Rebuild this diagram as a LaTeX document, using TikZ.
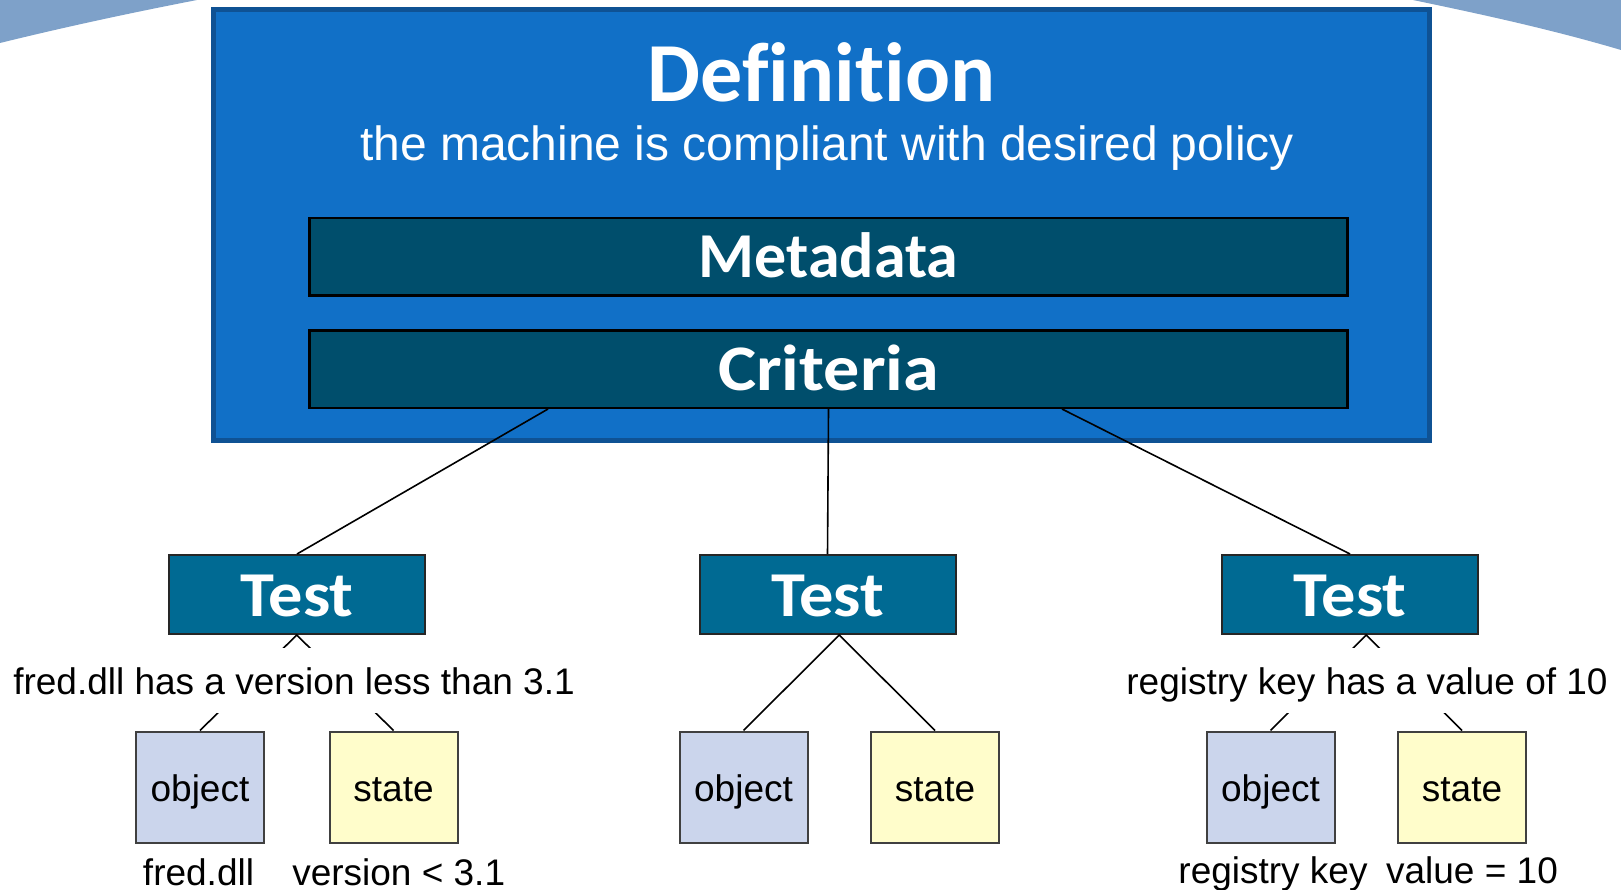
\documentclass[tikz,border=0pt]{standalone}
\usepackage{fontspec}
\setmainfont{Liberation Sans}
\newfontfamily\calfont{Carlito}[Ligatures=NoCommon, BoldFont={Carlito Bold}]
\newfontfamily\calwide{Carlito}[Ligatures=NoCommon, BoldFont={Carlito Bold}, BoldFeatures={FakeStretch=1.11}]
\newfontfamily\caltest{Carlito}[Ligatures=NoCommon, BoldFont={Carlito Bold}, BoldFeatures={FakeStretch=1.07}]
\usetikzlibrary{calc}
\definecolor{archblue}{HTML}{7EA1C9}
\definecolor{deffill}{HTML}{1170C7}
\definecolor{defborder}{HTML}{0F5294}
\definecolor{metafill}{HTML}{004E6C}
\definecolor{testfill}{HTML}{006A93}
\definecolor{objfill}{HTML}{CBD5EC}
\definecolor{statefill}{HTML}{FFFDCB}
\tikzset{
  defbox/.style={draw=defborder, line width=5pt, fill=deffill, minimum width=1216pt, minimum height=431pt, inner sep=0pt},
  metabox/.style={draw=black, line width=2.5pt, fill=metafill, minimum width=1038pt, minimum height=77.5pt, inner sep=0pt, text=white, font=\calfont\bfseries\fontsize{64}{64}\selectfont, text height=41pt, text depth=0pt},
  testbox/.style={draw=black!85, line width=2pt, fill=testfill, minimum width=256pt, minimum height=79pt, inner sep=0pt, text=white, font=\caltest\bfseries\fontsize{64}{64}\selectfont, text height=43pt, text depth=0pt},
  objbox/.style={draw=black!75, line width=2pt, fill=objfill, minimum width=128pt, minimum height=111pt, inner sep=0pt, font=\fontsize{37}{37}\selectfont, text height=36pt, text depth=7pt},
  statebox/.style={objbox, fill=statefill},
  conn/.style={draw=black, line width=1.6pt},
  desc/.style={fill=white, inner xsep=4pt, inner ysep=0pt, text height=46pt, text depth=19pt, anchor=base, font=\fontsize{37}{37}\selectfont},
  sublabel/.style={inner sep=0pt, anchor=base, font=\fontsize{37}{37}\selectfont},
}
\begin{document}
\begin{tikzpicture}[x=1pt, y=-1pt]
\useasboundingbox (0,0) rectangle (1621,890);
\fill[white] (0,0) rectangle (1621,890);
% background arches
\fill[archblue] (0,0) -- (197,0) .. controls (130,13) and (65,27) .. (0,43) -- cycle;
\fill[archblue] (1413,0) .. controls (1480,14) and (1550,29) .. (1621,50) -- (1621,0) -- cycle;

% definition
\node[defbox] (def) at (821.5,225) {};
\node[inner sep=0pt, anchor=base, text=white, font=\calfont\bfseries\fontsize{84}{84}\selectfont] (title) at (821.5,102) {Definition};
\node[inner sep=0pt, anchor=base, text=white, font=\fontsize{48}{48}\selectfont] (subtitle) at (827,161) {the machine is compliant with desired policy};
\node[metabox] (meta) at (828.5,257) {Metadata};
\node[metabox, font=\calwide\bfseries\fontsize{65}{65}\selectfont, text height=42pt] (crit) at (828.5,369) {Criteria};

% tests
\node[testbox] (t1) at (297,594.5) {Test};
\node[testbox] (t2) at (827.5,594.5) {Test};
\node[testbox] (t3) at (1350,594.5) {Test};

\coordinate (c1) at ($(crit.south)+(-280.5,0)$);
\coordinate (c2) at (crit.south);
\coordinate (c3) at ($(crit.south)+(233.5,0)$);
\draw[conn] (c1) -- (t1.north);
\draw[conn] (c2) -- (t2.north);
\draw[conn] (c3) -- (t3.north);

% objects and states
\node[objbox] (o1) at (200,787) {object};
\node[statebox] (s1) at (393.5,787) {state};
\node[objbox] (o2) at (743.5,787) {object};
\node[statebox] (s2) at (935,787) {state};
\node[objbox] (o3) at (1270.5,787) {object};
\node[statebox] (s3) at (1462,787) {state};

\coordinate (m1) at ($(o1.north)!0.5!(s1.north)$);
\coordinate (a1) at (m1 |- t1.south);
\coordinate (m2) at ($(o2.north)!0.5!(s2.north)$);
\coordinate (a2) at (m2 |- t2.south);
\coordinate (m3) at ($(o3.north)!0.5!(s3.north)$);
\coordinate (a3) at (m3 |- t3.south);
\draw[conn] (o1.north) -- (a1) -- (s1.north);
\draw[conn] (o2.north) -- (a2) -- (s2.north);
\draw[conn] (o3.north) -- (a3) -- (s3.north);

% descriptions (cover the connectors)
\node[desc] (d1) at (294,694) {fred.dll has a version less than 3.1};
\node[desc] (d3) at (1367,694) {registry key has a value of 10};

% labels under boxes
\node[sublabel] (l1) at (198.5,885) {fred.dll};
\node[sublabel] (l2) at (398.7,885) {version < 3.1};
\node[sublabel] (l3) at (1273,883) {registry key};
\node[sublabel] (l4) at (1472,883) {value = 10};
\end{tikzpicture}
\end{document}
